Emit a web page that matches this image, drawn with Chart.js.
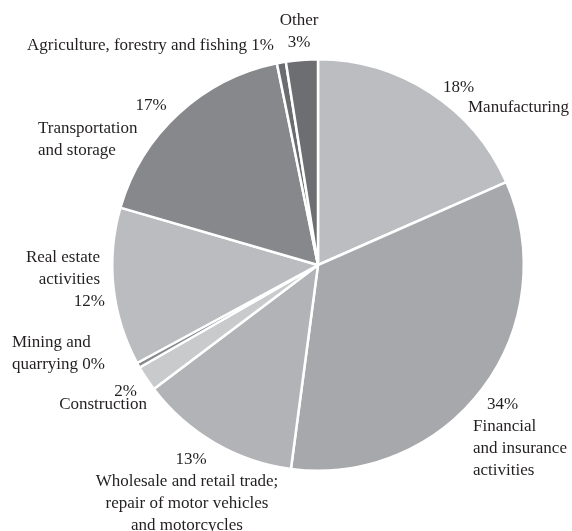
<!DOCTYPE html>
<html>
<head>
<meta charset="utf-8">
<script src="https://cdn.jsdelivr.net/npm/chart.js@4/dist/chart.umd.min.js"></script>
<style>
  html, body { margin: 0; padding: 0; background: #fff; }
  #wrap { width: 572px; height: 531px; }
</style>
</head>
<body>
<div id="wrap"><canvas id="pie"></canvas></div>
<script>
// slices, clockwise from 12 o'clock
const sectors = ['Manufacturing', 'Financial and insurance activities',
  'Wholesale and retail trade; repair of motor vehicles and motorcycles',
  'Construction', 'Mining and quarrying', 'Real estate activities',
  'Transportation and storage', 'Agriculture, forestry and fishing', 'Other'];
const shares = [18.4, 33.7, 12.6, 2.0, 0.4, 12.4, 17.3, 0.7, 2.5];
const fills = ['#bcbdc0', '#a7a8ab', '#b2b3b6', '#c9cacc', '#8a8b8e',
  '#bbbcbf', '#87888b', '#6b6c6f', '#6d6e71'];

// label text blocks: [dx, dy from pie centre, align, lines]
const labelBlocks = [
  [125, -177, 'left', ['18%']],
  [150, -157, 'left', ['Manufacturing']],
  [169, 140, 'left', ['34%']],
  [155, 162, 'left', ['Financial', 'and insurance', 'activities']],
  [-127, 195, 'center', ['13%']],
  [-131, 217, 'center', ['Wholesale and retail trade;', 'repair of motor vehicles', 'and motorcycles']],
  [-181, 127, 'right', ['2%']],
  [-171, 140, 'right', ['Construction']],
  [-306, 78, 'left', ['Mining and', 'quarrying 0%']],
  [-218, -7, 'right', ['Real estate', 'activities']],
  [-213, 37, 'right', ['12%']],
  [-167, -159, 'center', ['17%']],
  [-280, -136, 'left', ['Transportation', 'and storage']],
  [-44, -219, 'right', ['Agriculture, forestry and fishing 1%']],
  [-19, -244, 'center', ['Other', '3%']]
];

const labelPlugin = {
  id: 'sliceLabels',
  afterDatasetsDraw(chart) {
    const arc = chart.getDatasetMeta(0).data[0];
    const cx = arc.x, cy = arc.y;
    const ctx = chart.ctx;
    ctx.save();
    ctx.font = '17px "Liberation Serif", "DejaVu Serif", serif';
    ctx.fillStyle = '#231f20';
    ctx.textBaseline = 'middle';
    labelBlocks.forEach(([dx, dy, align, lines]) => {
      ctx.textAlign = align;
      lines.forEach((line, i) => {
        ctx.fillText(line, cx + dx, cy + dy + i * 22);
      });
    });
    ctx.restore();
  }
};

new Chart(document.getElementById('pie'), {
  type: 'pie',
  data: {
    labels: sectors,
    datasets: [{
      data: shares,
      backgroundColor: fills,
      borderColor: '#ffffff',
      borderWidth: 2.5
    }]
  },
  options: {
    responsive: true,
    maintainAspectRatio: false,
    animation: false,
    layout: { padding: { left: 111, right: 47, top: 58, bottom: 59 } },
    plugins: {
      legend: { display: false },
      tooltip: { enabled: false }
    }
  },
  plugins: [labelPlugin]
});
</script>
</body>
</html>
